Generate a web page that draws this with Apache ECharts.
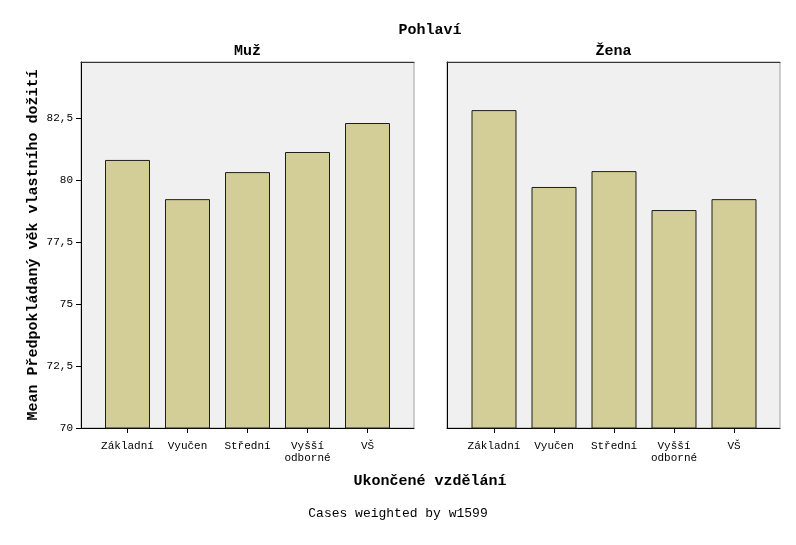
<!DOCTYPE html>
<html>
<head>
<meta charset="utf-8">
<script src="https://cdn.jsdelivr.net/npm/echarts@6/dist/echarts.min.js"></script>
<style>html,body{margin:0;padding:0;background:#fff}#c{width:796px;height:545px}</style>
</head>
<body>
<div id="c"></div>
<script>
var categories = ['Základní', 'Vyučen', 'Střední', 'Vyšší\nodborné', 'VŠ'];
var panels = ['Muž', 'Žena'];
var muzValues = [80.81, 79.23, 80.32, 81.13, 82.30];
var zenaValues = [82.82, 79.72, 80.36, 78.79, 79.23];
var yTicks = [70, 72.5, 75, 77.5, 80, 82.5];
var yMin = 70, yMax = 84.76;

var mono = '"Liberation Mono", "DejaVu Sans Mono", monospace';
var chart = echarts.init(document.getElementById('c'), null, {renderer: 'canvas'});
var fmt = function (v) { return String(v).replace('.', ','); };
var barColor = '#d3ce97';

var frameGrids = [
  {left: 81, top: 62, width: 333, height: 366},
  {left: 447, top: 62, width: 333, height: 366}
];
var dataGrids = [
  {left: 97.5, top: 62, width: 300, height: 366},
  {left: 464, top: 62, width: 300, height: 366}
];
var grids = [];
frameGrids.forEach(function (g) {
  grids.push(Object.assign({show: true, backgroundColor: '#f0f0f0', borderColor: '#a0a0a0', borderWidth: 1}, g));
});
dataGrids.forEach(function (g) { grids.push(Object.assign({show: false}, g)); });

var xAxes = [], yAxes = [], series = [];
[0, 1].forEach(function (i) {
  xAxes.push({type: 'category', gridIndex: i, data: [''], position: 'bottom',
    axisLine: {show: true, lineStyle: {color: '#000', width: 1}}, axisTick: {show: false}, axisLabel: {show: false}, splitLine: {show: false}});
  xAxes.push({type: 'category', gridIndex: i, data: [''], position: 'top',
    axisLine: {show: true, lineStyle: {color: '#333', width: 1}}, axisTick: {show: false}, axisLabel: {show: false}, splitLine: {show: false}});
  yAxes.push({type: 'value', gridIndex: i, min: yMin, max: yMax,
    axisLine: {show: true, lineStyle: {color: '#000', width: 1}},
    axisTick: {show: i === 0, length: 5, lineStyle: {color: '#000'}, customValues: yTicks},
    axisLabel: {show: i === 0, customValues: yTicks, formatter: fmt, fontFamily: mono, fontSize: 11, color: '#000', margin: 8},
    splitLine: {show: false}});
});
[0, 1].forEach(function (i) {
  xAxes.push({type: 'category', gridIndex: 2 + i, data: categories,
    axisLine: {show: false},
    axisTick: {show: true, alignWithLabel: true, length: 5, lineStyle: {color: '#000'}},
    axisLabel: {fontFamily: mono, fontSize: 11, color: '#000', margin: 12, lineHeight: 12, interval: 0},
    splitLine: {show: false}});
  yAxes.push({type: 'value', gridIndex: 2 + i, min: yMin, max: yMax, show: false, splitLine: {show: false}});
});
var vals = [muzValues, zenaValues];
[0, 1].forEach(function (i) {
  series.push({type: 'bar', xAxisIndex: 4 + i, yAxisIndex: 2 + i, data: vals[i], barWidth: 45,
    itemStyle: {color: barColor, borderColor: '#1e1e1e', borderWidth: 1}, silent: true, animation: false});
});

var bold = {fontFamily: mono, fontWeight: 'bold', fontSize: 15, fill: '#000'};
chart.setOption({
  animation: false,
  grid: grids,
  xAxis: xAxes,
  yAxis: yAxes,
  series: series,
  graphic: [
    {type: 'text', style: Object.assign({text: 'Pohlaví', x: 430, y: 30, textAlign: 'center', textVerticalAlign: 'middle'}, bold)},
    {type: 'text', style: Object.assign({text: panels[0], x: 247.5, y: 51, textAlign: 'center', textVerticalAlign: 'middle'}, bold)},
    {type: 'text', style: Object.assign({text: panels[1], x: 613.5, y: 51, textAlign: 'center', textVerticalAlign: 'middle'}, bold)},
    {type: 'text', x: 33, y: 245, rotation: Math.PI / 2, style: Object.assign({text: 'Mean Předpokládaný věk vlastního dožití', x: 0, y: 0, textAlign: 'center', textVerticalAlign: 'middle'}, bold)},
    {type: 'text', style: Object.assign({text: 'Ukončené vzdělání', x: 430, y: 481, textAlign: 'center', textVerticalAlign: 'middle'}, bold)},
    {type: 'text', style: {text: 'Cases weighted by w1599', x: 398, y: 514, textAlign: 'center', textVerticalAlign: 'middle', fontFamily: mono, fontSize: 13, fill: '#000'}}
  ]
});
</script>
</body>
</html>
